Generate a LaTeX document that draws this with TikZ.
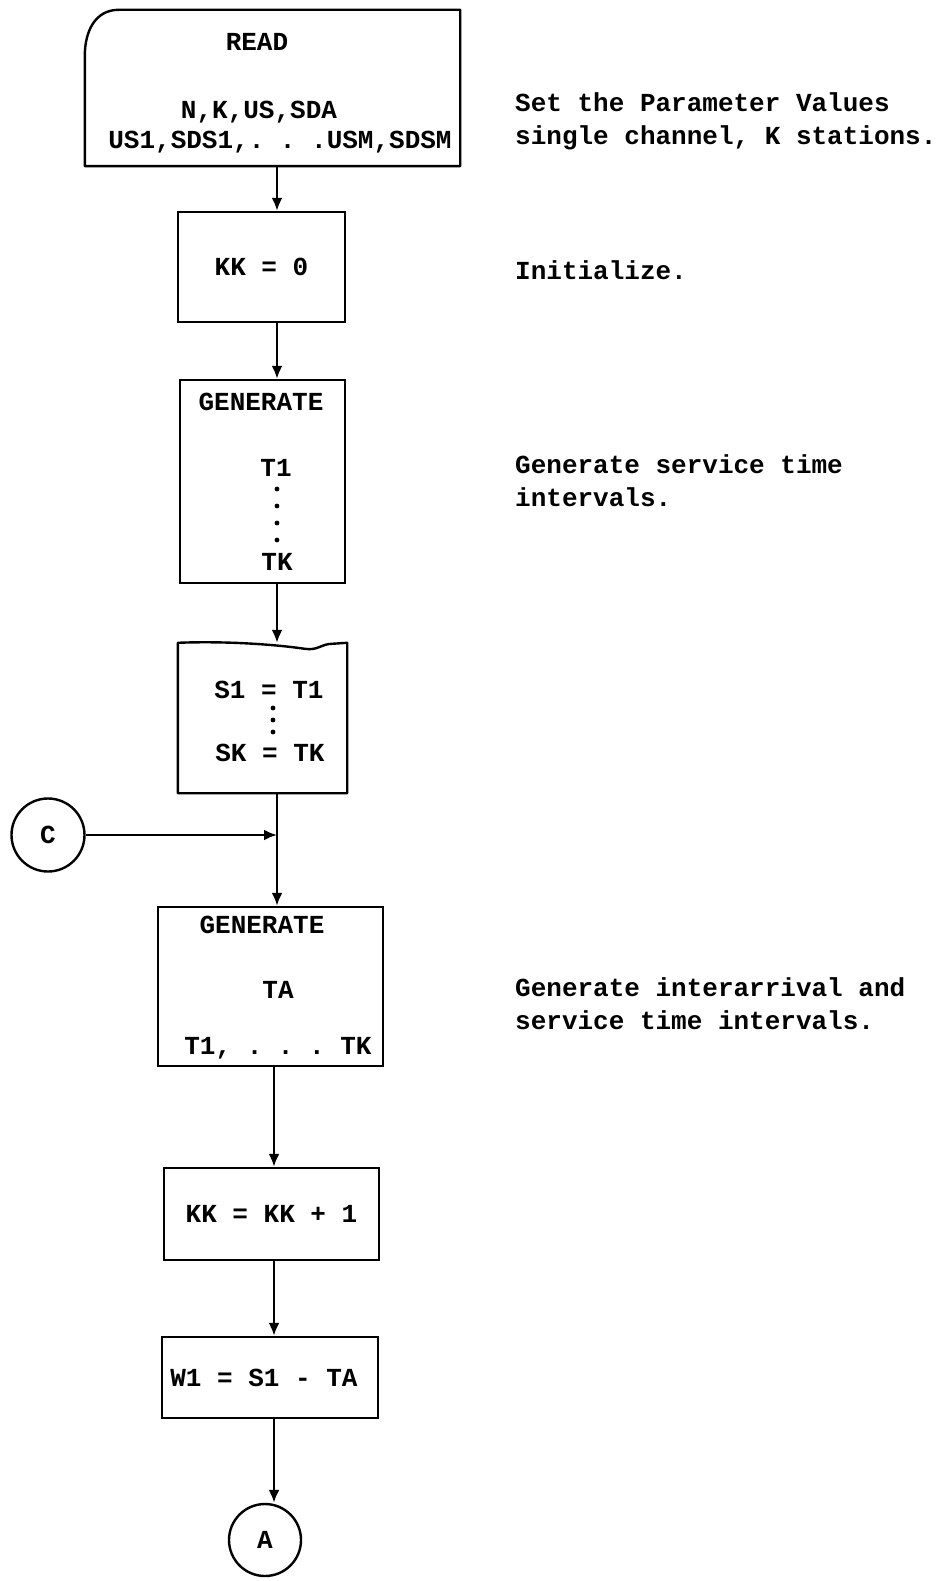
\documentclass[tikz,border=0pt]{standalone}
\usepackage{fontspec}
\setmonofont{Liberation Mono}
\usetikzlibrary{calc, arrows.meta}

\begin{document}
\begin{tikzpicture}[
  x=1pt, y=-1pt,
  every node/.style={font=\ttfamily\bfseries\fontsize{26}{33}\selectfont, inner sep=0pt},
  box/.style={draw, line width=2.4pt},
  frame/.style={line width=2.4pt, line join=round},
  conn/.style={draw, circle, line width=2.4pt, minimum size=73pt},
  note/.style={anchor=west, align=left},
  arrow/.style={-{Latex[length=13pt, width=11pt]}, line width=2.4pt}
]
\useasboundingbox (0,0) rectangle (942,1581);

% flow column
\coordinate (col) at (277,0);
\coordinate (colb) at (274,0);

% read card
\node[minimum width=375pt, minimum height=156pt] (read) at (272.5,88) {};
\draw[frame] ($(read.north west)+(0,46)$) -- (read.south west) -- (read.south east)
  -- (read.north east) -- ($(read.north west)+(34,0)$)
  .. controls ($(read.north west)+(10,0)$) and ($(read.north west)+(0,22)$) .. cycle;
\node (readT) at (257,42) {READ};
\node (readP1) at (259,112) {N,K,US,SDA};
\node (readP2) at (280,142) {US1,SDS1,. . .USM,SDSM};

\node[box, minimum width=167pt, minimum height=110pt] (kk0) at (261.5,267) {KK = 0};

% generate service times
\node[box, minimum width=165pt, minimum height=203pt] (gen1) at (262.5,481.5) {};
\node (gen1T) at (261,402) {GENERATE};
\node (gen1A) at (276,468) {T1};
\node (gen1B) at (277,562) {TK};
\foreach \y in {489,506,523,540}
  \fill (277,\y) circle[radius=2.4pt];

% set S = T
\node[minimum width=169pt, minimum height=150pt] (sets) at (262.5,718) {};
\draw[frame] (sets.north east) -- (sets.south east) -- (sets.south west) -- (sets.north west)
  .. controls ($(sets.north west)+(50,-2)$) and ($(sets.north west)+(100,2)$) .. ($(sets.north west)+(127,6)$)
  .. controls ($(sets.north west)+(140,8)$) and ($(sets.north west)+(144,1)$) .. ($(sets.north west)+(154,1)$)
  -- cycle;
\node (setsA) at (269,690) {S1 = T1};
\node (setsB) at (270,753) {SK = TK};
\foreach \y in {708,720,732}
  \fill (273,\y) circle[radius=2.4pt];

% generate arrivals
\node[box, minimum width=225pt, minimum height=159pt] (gen2) at (270.5,986.5) {};
\node (gen2T) at (262,925) {GENERATE};
\node (gen2A) at (278,990) {TA};
\node (gen2B) at (278,1048) {T1, . . . TK};

\node[box, minimum width=215pt, minimum height=92pt] (kk1) at (271.5,1214) {KK = KK + 1};
\node[box, minimum width=216pt, minimum height=81pt] (w1) at (270,1377.5) {\hspace*{-12pt}W1 = S1 - TA};

% connectors
\node[conn] (C) at (48,835) {C};
\node[conn, minimum size=72pt] (A) at (265,1540) {A};

\draw[arrow] (read.south -| col) -- (kk0.north -| col);
\draw[arrow] (kk0.south -| col) -- (gen1.north -| col);
\draw[arrow] (gen1.south -| col) -- (sets.north -| col);
\draw[arrow] (sets.south -| col) -- (gen2.north -| col);
\draw[arrow] (C) -- (C -| col);
\draw[arrow] (gen2.south -| colb) -- (kk1.north -| colb);
\draw[arrow] (kk1.south -| colb) -- (w1.north -| colb);
\draw[arrow] (w1.south -| colb) -- (A.north -| colb);

% remarks
\node[note] (n1) at (515,121) {Set the Parameter Values\\single channel, K stations.};
\node[note] (n2) at (515,270) {Initialize.};
\node[note] (n3) at (515,481) {Generate service time\\intervals.};
\node[note] (n4) at (515,1004) {Generate interarrival and\\service time intervals.};
\end{tikzpicture}
\end{document}
